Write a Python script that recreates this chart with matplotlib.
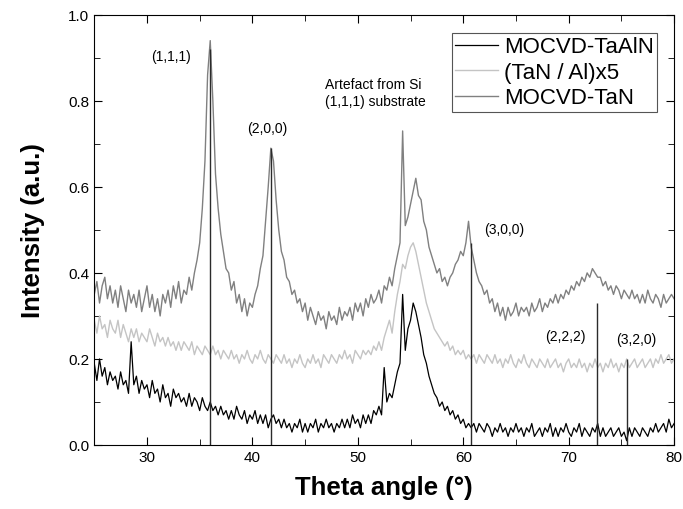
import numpy as np
import matplotlib
matplotlib.use("Agg")
import matplotlib.pyplot as plt
from matplotlib.ticker import MultipleLocator

plt.rcParams['font.family'] = ['Liberation Sans', 'DejaVu Sans']

# diffractograms, one value every 0.25 deg from 25 to 80
tan_y = [
    0.35, 0.38, 0.33, 0.37,  0.39, 0.34, 0.37, 0.33,  0.36, 0.32, 0.37, 0.34,
    0.31, 0.36, 0.33, 0.35,  0.32, 0.36, 0.31, 0.34,  0.37, 0.32, 0.35, 0.31,
    0.34, 0.30, 0.35, 0.33,  0.36, 0.32, 0.37, 0.34,  0.38, 0.33, 0.36, 0.35,
    0.39, 0.36, 0.40, 0.43,  0.47, 0.55, 0.66, 0.86,  0.94, 0.80, 0.63, 0.55,
    0.49, 0.45, 0.41, 0.40,  0.36, 0.38, 0.33, 0.35,  0.31, 0.34, 0.30, 0.33,
    0.32, 0.35, 0.37, 0.41,  0.44, 0.52, 0.60, 0.69,  0.66, 0.57, 0.50, 0.45,
    0.43, 0.39, 0.38, 0.35,  0.36, 0.33, 0.34, 0.31,  0.33, 0.29, 0.32, 0.30,
    0.28, 0.31, 0.29, 0.30,  0.27, 0.31, 0.29, 0.30,  0.28, 0.32, 0.29, 0.31,
    0.30, 0.32, 0.29, 0.33,  0.31, 0.33, 0.30, 0.34,  0.32, 0.35, 0.33, 0.34,
    0.36, 0.33, 0.37, 0.36,  0.39, 0.37, 0.41, 0.44,  0.47, 0.73, 0.51, 0.53,
    0.56, 0.59, 0.62, 0.58,  0.57, 0.52, 0.50, 0.46,  0.44, 0.42, 0.40, 0.41,
    0.38, 0.39, 0.37, 0.39,  0.40, 0.42, 0.43, 0.45,  0.44, 0.47, 0.52, 0.46,
    0.43, 0.40, 0.38, 0.37,  0.35, 0.36, 0.33, 0.34,  0.31, 0.33, 0.30, 0.32,
    0.29, 0.32, 0.30, 0.31,  0.33, 0.30, 0.32, 0.31,  0.32, 0.30, 0.33, 0.31,
    0.32, 0.34, 0.31, 0.33,  0.32, 0.34, 0.33, 0.35,  0.33, 0.35, 0.34, 0.36,
    0.35, 0.37, 0.36, 0.38,  0.37, 0.39, 0.38, 0.40,  0.39, 0.41, 0.40, 0.39,
    0.39, 0.37, 0.38, 0.36,  0.37, 0.35, 0.37, 0.36,  0.34, 0.36, 0.35, 0.34,
    0.36, 0.34, 0.35, 0.33,  0.35, 0.33, 0.36, 0.34,  0.33, 0.35, 0.34, 0.32,
    0.35, 0.33, 0.34, 0.35,  0.34,
]
multi_y = [
    0.29, 0.26, 0.30, 0.27,  0.28, 0.25, 0.29, 0.27,  0.26, 0.29, 0.25, 0.28,
    0.26, 0.24, 0.27, 0.25,  0.27, 0.24, 0.26, 0.25,  0.24, 0.27, 0.25, 0.23,
    0.26, 0.24, 0.25, 0.23,  0.25, 0.23, 0.24, 0.22,  0.24, 0.22, 0.24, 0.23,
    0.22, 0.24, 0.21, 0.23,  0.22, 0.21, 0.23, 0.22,  0.21, 0.23, 0.21, 0.22,
    0.20, 0.22, 0.21, 0.20,  0.22, 0.20, 0.21, 0.19,  0.21, 0.20, 0.22, 0.20,
    0.19, 0.21, 0.20, 0.22,  0.20, 0.19, 0.21, 0.20,  0.19, 0.21, 0.20, 0.19,
    0.21, 0.19, 0.20, 0.18,  0.20, 0.19, 0.21, 0.19,  0.18, 0.20, 0.19, 0.21,
    0.19, 0.20, 0.18, 0.21,  0.20, 0.19, 0.21, 0.20,  0.19, 0.21, 0.20, 0.22,
    0.20, 0.21, 0.19, 0.22,  0.21, 0.20, 0.22, 0.21,  0.22, 0.21, 0.23, 0.22,
    0.24, 0.22, 0.25, 0.27,  0.29, 0.26, 0.31, 0.35,  0.38, 0.42, 0.41, 0.44,
    0.46, 0.47, 0.45, 0.42,  0.39, 0.36, 0.33, 0.31,  0.29, 0.27, 0.26, 0.25,
    0.24, 0.23, 0.24, 0.22,  0.23, 0.21, 0.22, 0.21,  0.22, 0.20, 0.21, 0.20,
    0.21, 0.19, 0.21, 0.20,  0.19, 0.21, 0.20, 0.19,  0.21, 0.19, 0.20, 0.18,
    0.20, 0.19, 0.21, 0.19,  0.18, 0.20, 0.19, 0.21,  0.19, 0.18, 0.20, 0.19,
    0.18, 0.20, 0.19, 0.18,  0.20, 0.18, 0.19, 0.20,  0.18, 0.19, 0.17, 0.19,
    0.20, 0.18, 0.19, 0.18,  0.20, 0.18, 0.19, 0.17,  0.19, 0.18, 0.20, 0.18,
    0.19, 0.17, 0.19, 0.18,  0.20, 0.18, 0.19, 0.17,  0.19, 0.18, 0.20, 0.18,
    0.19, 0.20, 0.18, 0.19,  0.20, 0.18, 0.19, 0.20,  0.18, 0.20, 0.19, 0.21,
    0.19, 0.20, 0.21, 0.19,  0.20,
]
taaln_y = [
    0.19, 0.15, 0.20, 0.16,  0.18, 0.14, 0.17, 0.15,  0.16, 0.13, 0.17, 0.14,
    0.15, 0.12, 0.24, 0.14,  0.16, 0.12, 0.15, 0.13,  0.14, 0.11, 0.15, 0.12,
    0.13, 0.10, 0.14, 0.11,  0.12, 0.09, 0.13, 0.11,  0.12, 0.10, 0.11, 0.09,
    0.12, 0.09, 0.11, 0.10,  0.08, 0.11, 0.09, 0.08,  0.10, 0.08, 0.09, 0.07,
    0.09, 0.07, 0.08, 0.06,  0.08, 0.06, 0.09, 0.07,  0.06, 0.08, 0.05, 0.07,
    0.06, 0.08, 0.05, 0.07,  0.05, 0.07, 0.04, 0.06,  0.07, 0.05, 0.06, 0.04,
    0.06, 0.04, 0.05, 0.03,  0.05, 0.04, 0.06, 0.03,  0.05, 0.03, 0.05, 0.04,
    0.06, 0.03, 0.05, 0.04,  0.06, 0.04, 0.05, 0.03,  0.05, 0.04, 0.06, 0.04,
    0.06, 0.04, 0.07, 0.05,  0.06, 0.04, 0.07, 0.05,  0.07, 0.05, 0.08, 0.07,
    0.09, 0.07, 0.18, 0.10,  0.12, 0.11, 0.14, 0.17,  0.19, 0.35, 0.22, 0.27,
    0.29, 0.33, 0.31, 0.28,  0.25, 0.21, 0.19, 0.16,  0.14, 0.12, 0.11, 0.09,
    0.10, 0.08, 0.09, 0.07,  0.08, 0.06, 0.07, 0.05,  0.06, 0.04, 0.05, 0.04,
    0.05, 0.03, 0.05, 0.04,  0.03, 0.05, 0.04, 0.02,  0.04, 0.03, 0.05, 0.03,
    0.04, 0.02, 0.04, 0.03,  0.05, 0.03, 0.04, 0.02,  0.04, 0.03, 0.05, 0.02,
    0.03, 0.04, 0.02, 0.04,  0.03, 0.05, 0.02, 0.04,  0.02, 0.04, 0.03, 0.05,
    0.03, 0.02, 0.04, 0.03,  0.05, 0.02, 0.04, 0.03,  0.02, 0.04, 0.03, 0.05,
    0.02, 0.04, 0.02, 0.03,  0.04, 0.02, 0.03, 0.04,  0.02, 0.03, 0.01, 0.04,
    0.02, 0.04, 0.03, 0.02,  0.04, 0.03, 0.02, 0.04,  0.03, 0.05, 0.03, 0.04,
    0.05, 0.03, 0.06, 0.04,  0.05,
]
theta = np.linspace(25, 80, len(tan_y))

# reference TaN pattern
ref_pos = [36.0, 41.8, 60.7, 72.7, 75.5]
ref_h = [0.92, 0.69, 0.47, 0.33, 0.20]
ref_lbl = ["(1,1,1)", "(2,0,0)", "(3,0,0)", "(2,2,2)", "(3,2,0)"]
lbl_xy = [(32.3, 0.905), (41.4, 0.738), (63.9, 0.503), (69.7, 0.254), (76.4, 0.246)]

fig = plt.figure(figsize=(6.83, 5.10), dpi=100)
ax = fig.add_axes([0.138, 0.1255, 0.849, 0.8435])

l3, = ax.plot(theta, tan_y, color="#808080", lw=1.0, label="MOCVD-TaN")
l2, = ax.plot(theta, multi_y, color="#c4c4c4", lw=1.0, label="(TaN / Al)x5")
l1, = ax.plot(theta, taaln_y, color="black", lw=0.9, label="MOCVD-TaAlN")
ax.vlines(ref_pos, 0, ref_h, color="#2b2b2b", lw=1.0)

for (tx, ty), s in zip(lbl_xy, ref_lbl):
    ax.text(tx, ty, s, fontsize=10, ha="center", va="center")
ax.text(46.9, 0.82, "Artefact from Si\n(1,1,1) substrate", fontsize=10,
        ha="left", va="center", linespacing=1.3)

ax.set_xlim(25, 80)
ax.set_ylim(0, 1.0)
ax.xaxis.set_major_locator(MultipleLocator(10))
ax.xaxis.set_minor_locator(MultipleLocator(5))
ax.yaxis.set_major_locator(MultipleLocator(0.2))
ax.yaxis.set_minor_locator(MultipleLocator(0.1))
ax.set_xticks([30, 40, 50, 60, 70, 80])
ax.yaxis.set_major_formatter(matplotlib.ticker.FormatStrFormatter("%.1f"))
ax.tick_params(which="both", direction="in", top=True, right=True, labelsize=11)
ax.tick_params(which="major", length=6)
ax.tick_params(which="minor", length=4)

lab_font = dict(weight="bold", size=18.5)
ax.set_xlabel("Theta angle (°)", fontdict=lab_font, labelpad=8)
ax.set_ylabel("Intensity (a.u.)", fontdict=lab_font, labelpad=17)

leg = ax.legend(handles=[l1, l2, l3], loc="upper right", bbox_to_anchor=(0.9707, 0.9575),
                fontsize=16, frameon=True, fancybox=False, framealpha=1,
                edgecolor="#555555", handlelength=1.95, handletextpad=0.25,
                borderpad=0.15, labelspacing=0.2, borderaxespad=0)
leg.get_frame().set_linewidth(0.8)

fig.savefig("out.png", dpi=100)
